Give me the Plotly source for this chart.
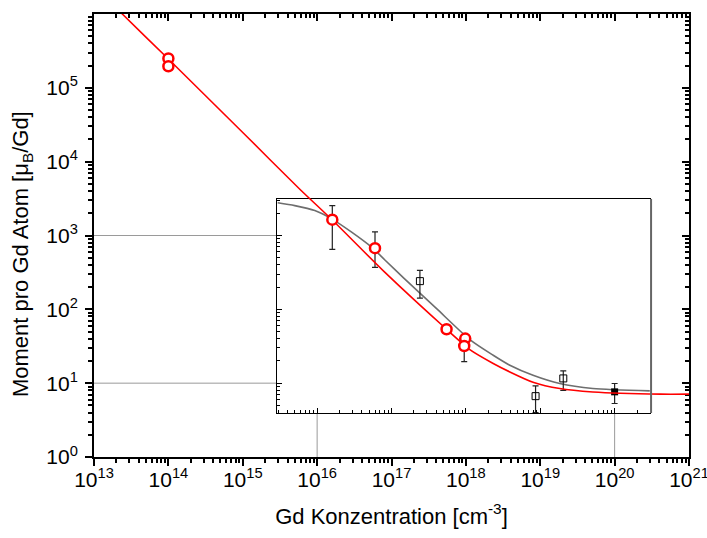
import plotly.graph_objects as go

# ---- fit curves, sampled along each drawn line (x in cm^-3, y in muB/Gd) ----
red_fit_x = [1e13, 2.4e13, 1e14, 1e15, 5.9e15, 1.6e16, 8.1e16, 5.5e17,
             1.13e18, 2.33e18, 3.9e18, 8.0e18, 1.83e19, 5.1e19, 4.1e20, 1e21]
red_fit_y = [2.45e6, 1.0e6, 2.46e5, 2.48e4, 4.2e3, 1.62e3, 319, 53.7,
             28.5, 18.5, 14.2, 10.3, 8.45, 7.6, 7.1, 7.1]

gray_fit_x = [2.95e15, 5.0e15, 9.3e15, 1.57e16, 2.91e16, 5.4e16, 8.15e16,
              1.44e17, 4.04e17, 1.13e18, 2.33e18, 3.9e18, 8.0e18, 1.83e19,
              5.1e19, 2.97e20]
gray_fit_y = [2.77e3, 2.54e3, 2.18e3, 1.68e3, 1.11e3, 695, 466,
              269, 102, 38.9, 23.9, 17.5, 12.8, 9.9, 8.48, 7.87]

# ---- measured moments (open red circles) ----
circle_x = [1e14, 1e14, 1.6e16, 6.0e16, 5.5e17, 9.8e17, 9.5e17]
circle_y = [2.5e5, 1.96e5, 1.64e3, 673, 53.7, 40.2, 31.9]

# ---- reference data with error bars (open squares) ----
square_x = [1.6e16, 6.0e16, 2.41e17, 9.5e17, 8.65e18, 2.04e19]
square_y = [1.64e3, 673, 241, 31.9, 6.67, 11.6]
square_hi = [2.54e3, 1122, 337, 45, 9.2, 14.7]
square_lo = [650, 370, 142, 19.6, 4.0, 8.0]

# ---- filled square ----
filled_x = [1e20]
filled_y = [7.63]
filled_hi = [9.9]
filled_lo = [5.3]

# ---- axes (log10 ranges and labelled decades) ----
x_exponents = [13, 14, 15, 16, 17, 18, 19, 20, 21]
y_exponents = [0, 1, 2, 3, 4, 5]
X_RANGE = (13, 21)
Y_RANGE = (0, 6)
INSET_X = (15.46, 20.49)
INSET_Y = (0.596, 3.495)
guide_y = [1e3, 1e1]     # horizontal guides to the inset
guide_x = [1e16, 1e20]   # vertical guides to the inset

FONT = "Liberation Sans, Arial, sans-serif"


def decade_ticks(exps):
    vals = [10.0 ** e for e in exps]
    text = ["10<sup>%d</sup>" % e for e in exps]
    return vals, text


def minor_ticks(lo, hi):
    return [m * 10.0 ** e for e in range(lo, hi) for m in range(2, 10)]


xt_vals, xt_text = decade_ticks(x_exponents)
yt_vals, yt_text = decade_ticks(y_exponents)

fig = go.Figure()

# guide lines from the main axes to the inset frame
gx, gy = [], []
for yv in guide_y:
    gx += [10 ** X_RANGE[0], 10 ** INSET_X[0], None]
    gy += [yv, yv, None]
for xv in guide_x:
    gx += [xv, xv, None]
    gy += [10 ** Y_RANGE[0], 10 ** INSET_Y[0], None]
fig.add_trace(go.Scatter(x=gx, y=gy, mode="lines",
                         line=dict(color="#9a9a9a", width=1),
                         xaxis="x", yaxis="y", showlegend=False, hoverinfo="skip"))

# empty trace keeps the mirrored top/right axes
fig.add_trace(go.Scatter(x=[], y=[], xaxis="x3", yaxis="y3", showlegend=False))

# inset: gray fit and squares with error bars
fig.add_trace(go.Scatter(x=gray_fit_x, y=gray_fit_y, mode="lines",
                         line=dict(color="#6e6e6e", width=1.6, shape="spline", smoothing=0.7),
                         xaxis="x2", yaxis="y2", showlegend=False))
fig.add_trace(go.Scatter(
    x=square_x, y=square_y, mode="markers",
    marker=dict(symbol="square-open", size=7, color="black", line=dict(width=1)),
    error_y=dict(type="data", symmetric=False,
                 array=[h - v for h, v in zip(square_hi, square_y)],
                 arrayminus=[v - l for l, v in zip(square_lo, square_y)],
                 color="#222222", thickness=1.2, width=3),
    xaxis="x2", yaxis="y2", showlegend=False))
fig.add_trace(go.Scatter(
    x=filled_x, y=filled_y, mode="markers",
    marker=dict(symbol="square", size=7, color="black"),
    error_y=dict(type="data", symmetric=False,
                 array=[h - v for h, v in zip(filled_hi, filled_y)],
                 arrayminus=[v - l for l, v in zip(filled_lo, filled_y)],
                 color="#222222", thickness=1.2, width=3),
    xaxis="x2", yaxis="y2", showlegend=False))

# red fit and circles, drawn on top of everything
fig.add_trace(go.Scatter(x=red_fit_x, y=red_fit_y, mode="lines",
                         line=dict(color="#ff0000", width=1.6, shape="spline", smoothing=0.6),
                         xaxis="x4", yaxis="y4", showlegend=False))
fig.add_trace(go.Scatter(x=circle_x, y=circle_y, mode="markers",
                         marker=dict(symbol="circle", size=10, color="white",
                                     line=dict(color="#ff0000", width=2.5)),
                         xaxis="x4", yaxis="y4", showlegend=False))

ix0 = (INSET_X[0] - X_RANGE[0]) / (X_RANGE[1] - X_RANGE[0])
ix1 = (INSET_X[1] - X_RANGE[0]) / (X_RANGE[1] - X_RANGE[0])
iy0 = (INSET_Y[0] - Y_RANGE[0]) / (Y_RANGE[1] - Y_RANGE[0])
iy1 = (INSET_Y[1] - Y_RANGE[0]) / (Y_RANGE[1] - Y_RANGE[0])

tickfont = dict(family=FONT, size=21, color="black")
main_common = dict(type="log", showgrid=False, zeroline=False, showline=True,
                   automargin=False,
                   linecolor="black", linewidth=2, tickcolor="black", tickwidth=1.5)
plain = dict(automargin=False, showgrid=False, zeroline=False)

fig.update_layout(
    width=707, height=538,
    margin=dict(l=94, r=18, t=14, b=81),
    paper_bgcolor="white", plot_bgcolor="rgba(0,0,0,0)",
    font=dict(family=FONT, size=21, color="black"),
    xaxis=dict(**main_common, domain=[0, 1], range=list(X_RANGE), anchor="y",
               ticks="outside", ticklen=7, tickmode="array",
               tickvals=xt_vals, ticktext=xt_text, tickfont=tickfont,
               ticklabeloverflow="allow", ticklabelstandoff=-4,
               minor=dict(tickmode="array", tickvals=minor_ticks(13, 21),
                          ticks="outside", ticklen=4, tickwidth=1.5, tickcolor="black"),
               title=dict(text="Gd Konzentration [cm<sup>-3</sup>]",
                          font=dict(family=FONT, size=22), standoff=18)),
    yaxis=dict(**main_common, domain=[0, 1], range=list(Y_RANGE), anchor="x",
               ticks="outside", ticklen=7, tickmode="array",
               tickvals=yt_vals, ticktext=yt_text, tickfont=tickfont,
               ticklabeloverflow="allow", ticklabelstandoff=3,
               minor=dict(tickmode="array", tickvals=minor_ticks(0, 6),
                          ticks="outside", ticklen=4, tickwidth=1.5, tickcolor="black")),
    xaxis3=dict(**main_common, overlaying="x", side="top", anchor="y",
                range=list(X_RANGE), ticks="inside", ticklen=7, tickmode="array",
                tickvals=xt_vals, showticklabels=False,
                minor=dict(tickmode="array", tickvals=minor_ticks(13, 21),
                           ticks="inside", ticklen=4, tickwidth=1.5, tickcolor="black")),
    yaxis3=dict(**main_common, overlaying="y", side="right", anchor="x",
                range=list(Y_RANGE), ticks="inside", ticklen=7, tickmode="array",
                tickvals=yt_vals, showticklabels=False,
                minor=dict(tickmode="array", tickvals=minor_ticks(0, 6),
                           ticks="inside", ticklen=4, tickwidth=1.5, tickcolor="black")),
    xaxis2=dict(**plain, type="log", domain=[ix0, ix1], range=list(INSET_X), anchor="y2",
                showline=True, mirror=True,
                linecolor="black", linewidth=1.3, ticks="inside", ticklen=5,
                tickcolor="black", tickwidth=1, tickmode="array",
                tickvals=[10.0 ** e for e in range(16, 21)], showticklabels=False,
                minor=dict(tickmode="array", tickvals=minor_ticks(15, 21),
                           ticks="inside", ticklen=3, tickwidth=1, tickcolor="black")),
    yaxis2=dict(**plain, type="log", domain=[iy0, iy1], range=list(INSET_Y), anchor="x2",
                showline=True,
                linecolor="black", linewidth=1.3, ticks="inside", ticklen=5,
                tickcolor="black", tickwidth=1, tickmode="array",
                tickvals=[10.0 ** e for e in range(1, 4)], showticklabels=False,
                minor=dict(tickmode="array", tickvals=minor_ticks(0, 4),
                           ticks="inside", ticklen=3, tickwidth=1, tickcolor="black")),
    xaxis4=dict(**plain, type="log", domain=[0, 1], range=list(X_RANGE), anchor="y4", visible=False),
    yaxis4=dict(**plain, type="log", domain=[0, 1], range=list(Y_RANGE), anchor="x4", visible=False),
    shapes=[dict(type="line", xref="x2 domain", yref="y2 domain",
                 x0=1, x1=1, y0=0, y1=1, line=dict(color="#666666", width=2))],
    annotations=[dict(text="Moment pro Gd Atom [μ<sub>B</sub>/Gd]", textangle=-90,
                      xref="paper", yref="paper", x=-0.121, y=0.458,
                      xanchor="center", yanchor="middle", showarrow=False,
                      font=dict(family=FONT, size=22, color="black"))],
)

fig.write_html("out.html")
